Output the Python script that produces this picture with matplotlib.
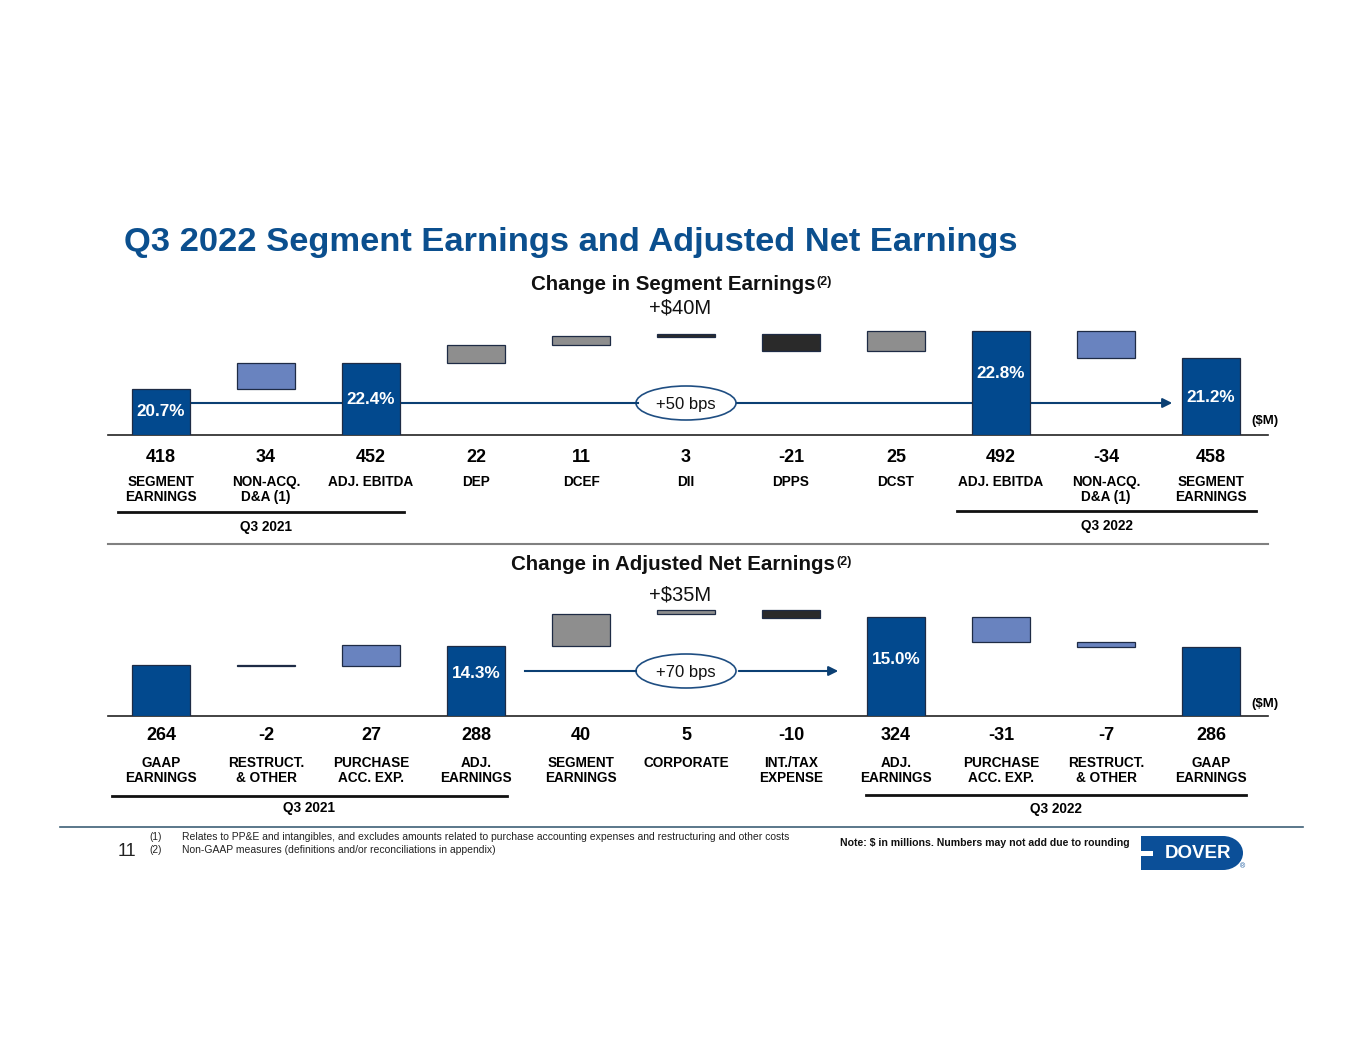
import matplotlib
matplotlib.use("Agg")
import matplotlib.pyplot as plt
from matplotlib.patches import Ellipse, Rectangle

plt.rcParams['font.family'] = ['Liberation Sans', 'DejaVu Sans']

# ---------------- data ----------------
seg_labels = ["SEGMENT\nEARNINGS", "NON-ACQ.\nD&A (1)", "ADJ. EBITDA", "DEP", "DCEF", "DII",
              "DPPS", "DCST", "ADJ. EBITDA", "NON-ACQ.\nD&A (1)", "SEGMENT\nEARNINGS"]
seg_values = [418, 34, 452, 22, 11, 3, -21, 25, 492, -34, 458]
seg_is_total = [True, False, True, False, False, False, False, False, True, False, True]
seg_colors = ["total", "light", "total", "gray", "gray", "dark", "dark", "gray", "total", "light", "total"]
seg_margins = {0: "20.7%", 2: "22.4%", 8: "22.8%", 10: "21.2%"}

net_labels = ["GAAP\nEARNINGS", "RESTRUCT.\n& OTHER", "PURCHASE\nACC. EXP.", "ADJ.\nEARNINGS",
              "SEGMENT\nEARNINGS", "CORPORATE", "INT./TAX\nEXPENSE", "ADJ.\nEARNINGS",
              "PURCHASE\nACC. EXP.", "RESTRUCT.\n& OTHER", "GAAP\nEARNINGS"]
net_values = [264, -2, 27, 288, 40, 5, -10, 324, -31, -7, 286]
net_is_total = [True, False, False, True, False, False, False, True, False, False, True]
net_colors = ["total", "dark", "light", "total", "gray", "gray", "dark", "total", "light", "light", "total"]
net_margins = {3: "14.3%", 7: "15.0%"}

COL = {"total": "#02498E", "light": "#6983BF", "gray": "#8E8E8E", "dark": "#2A2A2A"}
NAVY = "#0B3F73"
TITLE_BLUE = "#0B4F8E"

W, H = 1365, 1055
fig = plt.figure(figsize=(W / 100, H / 100), dpi=100)
fig.patch.set_facecolor("white")

# overlay axes in pixel coordinates
ov = fig.add_axes([0, 0, 1, 1])
ov.set_xlim(0, W)
ov.set_ylim(H, 0)
ov.axis("off")
ov.set_zorder(1)

X0, DX = 161, 105  # pixel centre of first bar, spacing


def waterfall(values, is_total):
    bottoms, heights = [], []
    run = 0
    for v, t in zip(values, is_total):
        if t:
            bottoms.append(None)
            heights.append(v)
            run = v
        else:
            lo = run if v >= 0 else run + v
            bottoms.append(lo)
            heights.append(abs(v))
            run = run + v
    return bottoms, heights


def make_axes(base_px, top_px, base_val, scale):
    left, right = 108, 1268
    ax = fig.add_axes([left / W, (H - base_px) / H, (right - left) / W, (base_px - top_px) / H])
    ax.set_xlim((left - X0) / DX, (right - X0) / DX)
    ax.set_ylim(base_val, base_val + (base_px - top_px) / scale)
    ax.axis("off")
    ax.patch.set_alpha(0)
    ax.set_zorder(2)
    return ax


def draw_chart(ax, values, is_total, colors, base_val):
    bottoms, heights = waterfall(values, is_total)
    for i in range(len(values)):
        b = base_val if bottoms[i] is None else bottoms[i]
        h = heights[i] - base_val if bottoms[i] is None else heights[i]
        ax.bar(i, h, bottom=b, width=0.55, color=COL[colors[i]],
               edgecolor="#1E2B45", linewidth=0.9, zorder=3)


renderer = fig.canvas.get_renderer()


def heading(x, y, main, sup):
    t = ov.text(x, y, main, fontsize=14.8, fontweight="bold", ha="left", va="center", color="#111111")
    bb = t.get_window_extent(renderer=renderer)
    fig.text((bb.x1 + 1) / W, (bb.y1 - 1) / H, sup, fontsize=9, fontweight="bold",
             ha="left", va="top", color="#111111")


# ---------------- title ----------------
ov.text(124, 243, "Q3 2022 Segment Earnings and Adjusted Net Earnings", fontsize=24.8,
        fontweight="bold", color=TITLE_BLUE, ha="left", va="center")

# ---------------- top chart ----------------
heading(531, 284, "Change in Segment Earnings", "(2)")
ov.text(680, 308, "+$40M", fontsize=14.5, ha="center", va="center", color="#111111")

ax1 = make_axes(435, 320, 360, 0.788)
draw_chart(ax1, seg_values, seg_is_total, seg_colors, 360)
for i, txt in seg_margins.items():
    ypx = {0: 411, 2: 399, 8: 374, 10: 398}[i]
    ax1.text(X0 + DX * i, ypx, txt, fontsize=12.3, fontweight="bold", color="white",
             ha="center", va="center", zorder=5, transform=ov.transData)

ov.plot([108, 1268], [435, 435], color="#222222", lw=1.2)
ov.text(1265, 421, "($M)", fontsize=9.5, fontweight="bold", ha="center", va="center")

ov.plot([190, 638], [403, 403], color=NAVY, lw=1.5)
ov.annotate("", xy=(1175, 403), xytext=(734, 403),
            arrowprops=dict(arrowstyle="-|>", color=NAVY, lw=1.5, mutation_scale=14))
ov.add_patch(Ellipse((686, 403), 100, 34, facecolor="white", edgecolor="#1F4E82", lw=1.2))
ov.text(686, 404, "+50 bps", fontsize=12, ha="center", va="center", color="#111111")

for i, (lab, v) in enumerate(zip(seg_labels, seg_values)):
    xc = X0 + DX * i
    ov.text(xc, 457, str(v), fontsize=13, fontweight="bold", ha="center", va="center")
    ov.text(xc, 475, lab, fontsize=9.8, fontweight="bold", ha="center", va="top", linespacing=1.12)

ov.plot([118, 404], [512, 512], color="#111111", lw=2)
ov.text(266, 527, "Q3 2021", fontsize=9.8, fontweight="bold", ha="center", va="center")
ov.plot([957, 1256], [511, 511], color="#111111", lw=2)
ov.text(1107, 526, "Q3 2022", fontsize=9.8, fontweight="bold", ha="center", va="center")

ov.plot([108, 1268], [544, 544], color="#808080", lw=1.5)

# ---------------- bottom chart ----------------
heading(511, 565, "Change in Adjusted Net Earnings", "(2)")
ov.text(680, 595, "+$35M", fontsize=14.5, ha="center", va="center", color="#111111")

ax2 = make_axes(716, 600, 200, 0.8)
draw_chart(ax2, net_values, net_is_total, net_colors, 200)
for i, txt in net_margins.items():
    ypx = {3: 674, 7: 659}[i]
    ax2.text(X0 + DX * i, ypx, txt, fontsize=12.3, fontweight="bold", color="white",
             ha="center", va="center", zorder=5, transform=ov.transData)

ov.plot([108, 1268], [716, 716], color="#222222", lw=1.2)
ov.text(1265, 704, "($M)", fontsize=9.5, fontweight="bold", ha="center", va="center")

ov.plot([525, 636], [671, 671], color=NAVY, lw=1.5)
ov.annotate("", xy=(841, 671), xytext=(736, 671),
            arrowprops=dict(arrowstyle="-|>", color=NAVY, lw=1.5, mutation_scale=14))
ov.add_patch(Ellipse((686, 671), 100, 34, facecolor="white", edgecolor="#1F4E82", lw=1.2))
ov.text(686, 672, "+70 bps", fontsize=12, ha="center", va="center", color="#111111")

for i, (lab, v) in enumerate(zip(net_labels, net_values)):
    xc = X0 + DX * i
    ov.text(xc, 735, str(v), fontsize=13, fontweight="bold", ha="center", va="center")
    ov.text(xc, 756, lab, fontsize=9.8, fontweight="bold", ha="center", va="top", linespacing=1.12)

ov.plot([112, 507], [796, 796], color="#111111", lw=2)
ov.text(309, 808, "Q3 2021", fontsize=9.8, fontweight="bold", ha="center", va="center")
ov.plot([866, 1246], [795, 795], color="#111111", lw=2)
ov.text(1056, 809, "Q3 2022", fontsize=9.8, fontweight="bold", ha="center", va="center")

# ---------------- footer ----------------
ov.plot([60, 1303], [827, 827], color="#3E6077", lw=1.2)
ov.text(127, 851, "11", fontsize=13, ha="center", va="center", color="#222222")
ov.text(156, 837, "(1)", fontsize=7.2, ha="center", va="center", color="#222222")
ov.text(156, 850, "(2)", fontsize=7.2, ha="center", va="center", color="#222222")
ov.text(182, 837, "Relates to PP&E and intangibles, and excludes amounts related to purchase accounting expenses and restructuring and other costs",
        fontsize=7.45, ha="left", va="center", color="#222222")
ov.text(182, 850, "Non-GAAP measures (definitions and/or reconciliations in appendix)",
        fontsize=7.45, ha="left", va="center", color="#222222")
ov.text(1130, 843, "Note: $ in millions. Numbers may not add due to rounding", fontsize=7.6,
        fontweight="bold", ha="right", va="center", color="#111111")

# logo
ov.add_patch(Rectangle((1141, 836), 82, 34, facecolor="#0B4F98", edgecolor="none"))
ov.add_patch(Ellipse((1223, 853), 40, 34, facecolor="#0B4F98", edgecolor="none"))
ov.add_patch(Rectangle((1139, 851), 14, 5, facecolor="white", edgecolor="none"))
ov.text(1198, 854, "DOVER", fontsize=13.5, fontweight="bold", color="white", ha="center", va="center")
ov.text(1243, 867, "®", fontsize=5, color="#0B4F98", ha="center", va="center")

fig.savefig("out.png", dpi=100, facecolor="white")
